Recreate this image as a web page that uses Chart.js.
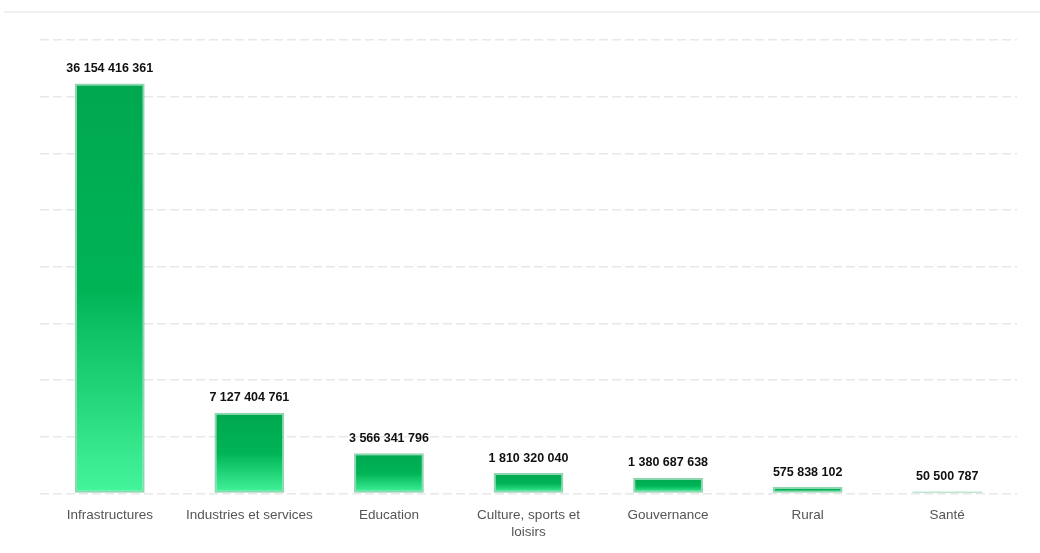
<!DOCTYPE html>
<html>
<head>
<meta charset="utf-8">
<script src="https://cdn.jsdelivr.net/npm/chart.js"></script>
<style>
  html, body { margin: 0; padding: 0; background: #fff; }
  #wrap { position: relative; width: 1040px; height: 553px; }
</style>
</head>
<body>
<div id="wrap"><canvas id="sectorChart"></canvas></div>
<script>
// Chart data
const categories = ['Infrastructures', 'Industries et services', 'Education', ['Culture, sports et', 'loisirs'], 'Gouvernance', 'Rural', 'Santé'];
const amounts = [36154416361, 7127404761, 3566341796, 1810320040, 1380687638, 575838102, 50500787];
const yTicks = [0, 5e9, 10e9, 15e9, 20e9, 25e9, 30e9, 35e9, 40e9];

// Format numbers with space as thousands separator
function formatAmount(v) {
  return String(Math.round(v)).replace(/\B(?=(\d{3})+(?!\d))/g, ' ');
}

// Vertical gradient per bar: dark green on top, bright green at the base
function barGradient(context) {
  const chart = context.chart;
  if (!chart.chartArea) return '#00a84f';
  const value = context.raw;
  const top = chart.scales.y.getPixelForValue(value);
  const base = chart.scales.y.getPixelForValue(0);
  if (base - top < 3) return '#9fe8c0';
  const g = chart.ctx.createLinearGradient(0, top, 0, base);
  g.addColorStop(0, '#00a84f');
  g.addColorStop(0.5, '#00b456');
  g.addColorStop(1, '#45f59c');
  return g;
}

// Draws value labels above each bar and the thin top rule
const decorPlugin = {
  id: 'decor',
  beforeDraw(chart) {
    const ctx = chart.ctx;
    ctx.save();
    ctx.fillStyle = '#f0f0f0';
    ctx.fillRect(4, 11, 1036, 2);
    ctx.restore();
  },
  afterDatasetsDraw(chart) {
    const ctx = chart.ctx;
    const meta = chart.getDatasetMeta(0);
    ctx.save();
    ctx.font = 'bold 12.5px "Liberation Sans", Arial, sans-serif';
    ctx.fillStyle = '#111';
    ctx.textAlign = 'center';
    ctx.textBaseline = 'middle';
    meta.data.forEach((bar, i) => {
      ctx.fillText(formatAmount(amounts[i]), bar.x, bar.y - 15);
    });
    ctx.restore();
  }
};

new Chart(document.getElementById('sectorChart'), {
  type: 'bar',
  data: {
    labels: categories,
    datasets: [{
      data: amounts,
      backgroundColor: barGradient,
      borderColor: 'rgba(0, 165, 80, 0.45)',
      borderWidth: 2,
      borderSkipped: false,
      minBarLength: 2,
      barPercentage: 0.5,
      categoryPercentage: 1
    }]
  },
  options: {
    responsive: true,
    maintainAspectRatio: false,
    animation: false,
    layout: {
      padding: { left: 40, right: 23, top: 40, bottom: 7 }
    },
    plugins: {
      legend: { display: false },
      tooltip: { enabled: false }
    },
    scales: {
      x: {
        grid: { display: false },
        border: { display: false },
        ticks: {
          color: '#555',
          font: { family: '"Liberation Sans", Arial, sans-serif', size: 13.5 },
          padding: 6,
          maxRotation: 0,
          autoSkip: false
        }
      },
      y: {
        min: 0,
        max: 40e9,
        afterBuildTicks(axis) {
          axis.ticks = yTicks.map(v => ({ value: v }));
        },
        ticks: { display: false },
        border: { display: false, dash: [9, 4] },
        grid: {
          color: '#e8e8e8',
          lineWidth: 1.5,
          drawTicks: false
        }
      }
    }
  },
  plugins: [decorPlugin]
});
</script>
</body>
</html>
